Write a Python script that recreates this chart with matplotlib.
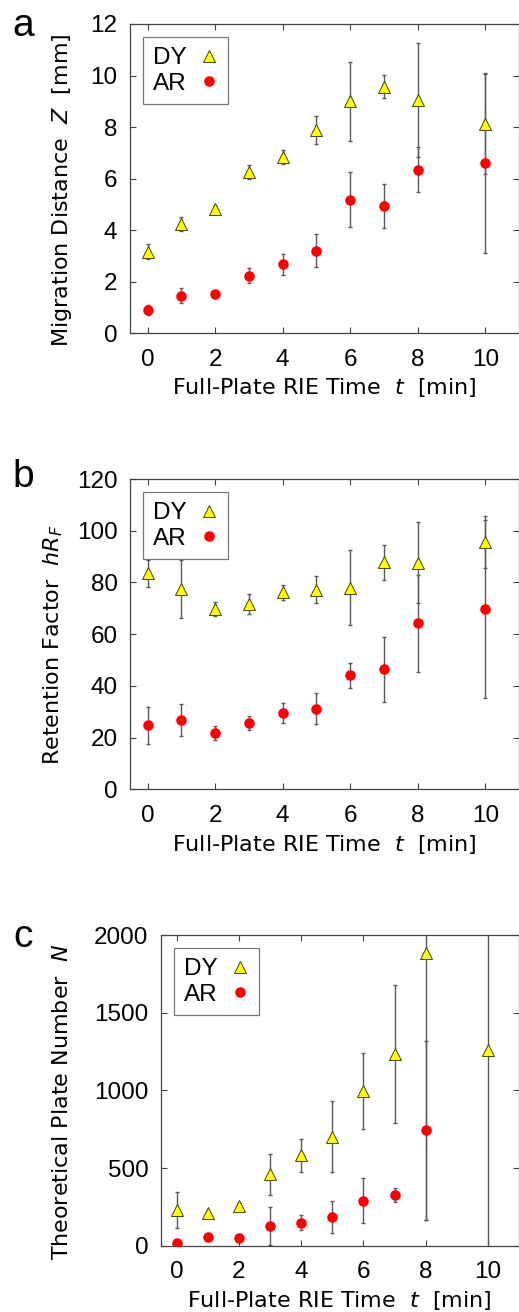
import matplotlib
matplotlib.use("Agg")
import matplotlib.pyplot as plt
import numpy as np

# RIE time [min]
t = [0, 1, 2, 3, 4, 5, 6, 7, 8, 10]

# (a) migration distance Z [mm]
dy_z = [3.17, 4.24, 4.82, 6.26, 6.85, 7.89, 9.01, 9.57, 9.05, 8.12]
dy_z_err = [0.28, 0.27, 0.10, 0.28, 0.27, 0.55, 1.53, 0.45, 2.2, 1.94]
ar_z = [0.91, 1.46, 1.51, 2.24, 2.68, 3.21, 5.19, 4.94, 6.35, 6.59]
ar_z_err = [0.2, 0.3, 0.05, 0.3, 0.4, 0.65, 1.05, 0.86, 0.87, 3.49]

# (b) retention factor hRF
dy_hrf = [83.5, 77.3, 69.6, 71.7, 76.2, 77.1, 78.0, 87.8, 87.6, 95.5]
dy_hrf_err = [5.3, 11.2, 2.7, 3.8, 3.0, 5.2, 14.5, 6.8, 15.6, 10.0]
ar_hrf = [24.7, 26.8, 21.7, 25.7, 29.6, 31.2, 44.1, 46.4, 64.2, 69.6]
ar_hrf_err = [7.3, 6.0, 2.6, 2.8, 3.8, 6.0, 4.8, 12.6, 18.7, 34.4]

# (c) theoretical plate number N (no AR value at 10 min)
dy_n = [230, 208, 257, 459, 582, 702, 994, 1232, 1887, 1260]
dy_n_err = [114, 10, 15, 130, 105, 228, 245, 443, 1720, 1400]
ar_n = [19, 58, 52, 127, 148, 185, 290, 328, 742, np.nan]
ar_n_err = [5, 5, 5, 120, 48, 103, 145, 44, 578, np.nan]

W, H = 519, 1312
TICK_FONT = "Liberation Sans"
LABEL_FONT = "DejaVu Sans"

panels = [
    # letter, axes box in pixels (left, top, right, bottom), xlim, ylim, yticks, ylabel, data,
    # letter position, ylabel position, xlabel y
    ("a", (130, 24, 518.5, 333.3), (-0.52, 10.98), (0, 12), np.arange(0, 13, 2),
     r"Migration Distance  $\mathit{Z}$  [mm]", (dy_z, dy_z_err, ar_z, ar_z_err),
     (23, 26), (62, 190), 388),
    ("b", (130, 479, 518.5, 789.3), (-0.52, 10.98), (0, 120), np.arange(0, 121, 20),
     r"Retention Factor  $\mathit{hR_F}$", (dy_hrf, dy_hrf_err, ar_hrf, ar_hrf_err),
     (23, 477), (53, 645), 844),
    ("c", (161, 935, 518.5, 1245.7), (-0.5, 10.98), (0, 2000), np.arange(0, 2001, 500),
     r"Theoretical Plate Number  $\mathit{N}$", (dy_n, dy_n_err, ar_n, ar_n_err),
     (23, 937), (62, 1102), 1300),
]

fig = plt.figure(figsize=(W / 100, H / 100), dpi=100)
plt.rcParams["mathtext.fontset"] = "dejavusans"

for letter, (l, tp, r, b), xlim, ylim, yticks, ylabel, data, lpos, ylpos, xly in panels:
    ax = fig.add_axes([l / W, 1 - b / H, (r - l) / W, (b - tp) / H])
    dy, dy_err, ar, ar_err = data
    ebkw = dict(fmt="none", ecolor="#5a5a5a", elinewidth=1.0, capsize=1.6, capthick=1.0, zorder=2)
    ax.errorbar(t, dy, yerr=dy_err, **ebkw)
    ax.errorbar(t, ar, yerr=ar_err, **ebkw)
    ax.plot(t, dy, ls="none", marker="^", ms=8.3, mfc="#ffff00", mec="#444400",
            mew=0.7, zorder=3, label="DY")
    ax.plot(t, ar, ls="none", marker="o", ms=7.6, mfc="#ff0000", mec="#ff0000",
            mew=0, zorder=3, label="AR")

    ax.set_xlim(*xlim)
    ax.set_ylim(*ylim)
    ax.set_xticks(np.arange(0, 11, 2))
    ax.set_yticks(yticks)
    ax.tick_params(direction="in", top=True, right=True, length=4, width=0.8,
                   color="#444444", labelsize=17.5)
    ax.tick_params(axis="x", pad=11)
    ax.tick_params(axis="y", pad=9)
    for lab in ax.get_xticklabels() + ax.get_yticklabels():
        lab.set_fontfamily(TICK_FONT)
    for sp in ax.spines.values():
        sp.set_color("#444444")
        sp.set_linewidth(0.9)

    leg = ax.legend(loc="upper left", markerfirst=False, frameon=True, fancybox=False,
                    prop={"family": TICK_FONT, "size": 17.5}, handlelength=0.8,
                    handletextpad=0.5, labelspacing=0.15, borderpad=0.4,
                    borderaxespad=0.55)
    leg.get_frame().set_edgecolor("#555555")
    leg.get_frame().set_linewidth(0.9)

    fig.text(((l + r) / 2) / W, 1 - xly / H, r"Full-Plate RIE Time  $\mathit{t}$  [min]",
             family=LABEL_FONT, fontsize=16, ha="center", va="center")
    fig.text(ylpos[0] / W, 1 - ylpos[1] / H, ylabel, family=LABEL_FONT, fontsize=16,
             rotation=90, ha="center", va="center")
    fig.text(lpos[0] / W, 1 - lpos[1] / H, letter, family=TICK_FONT, fontsize=28,
             ha="center", va="center")

fig.savefig("out.png", dpi=100)
